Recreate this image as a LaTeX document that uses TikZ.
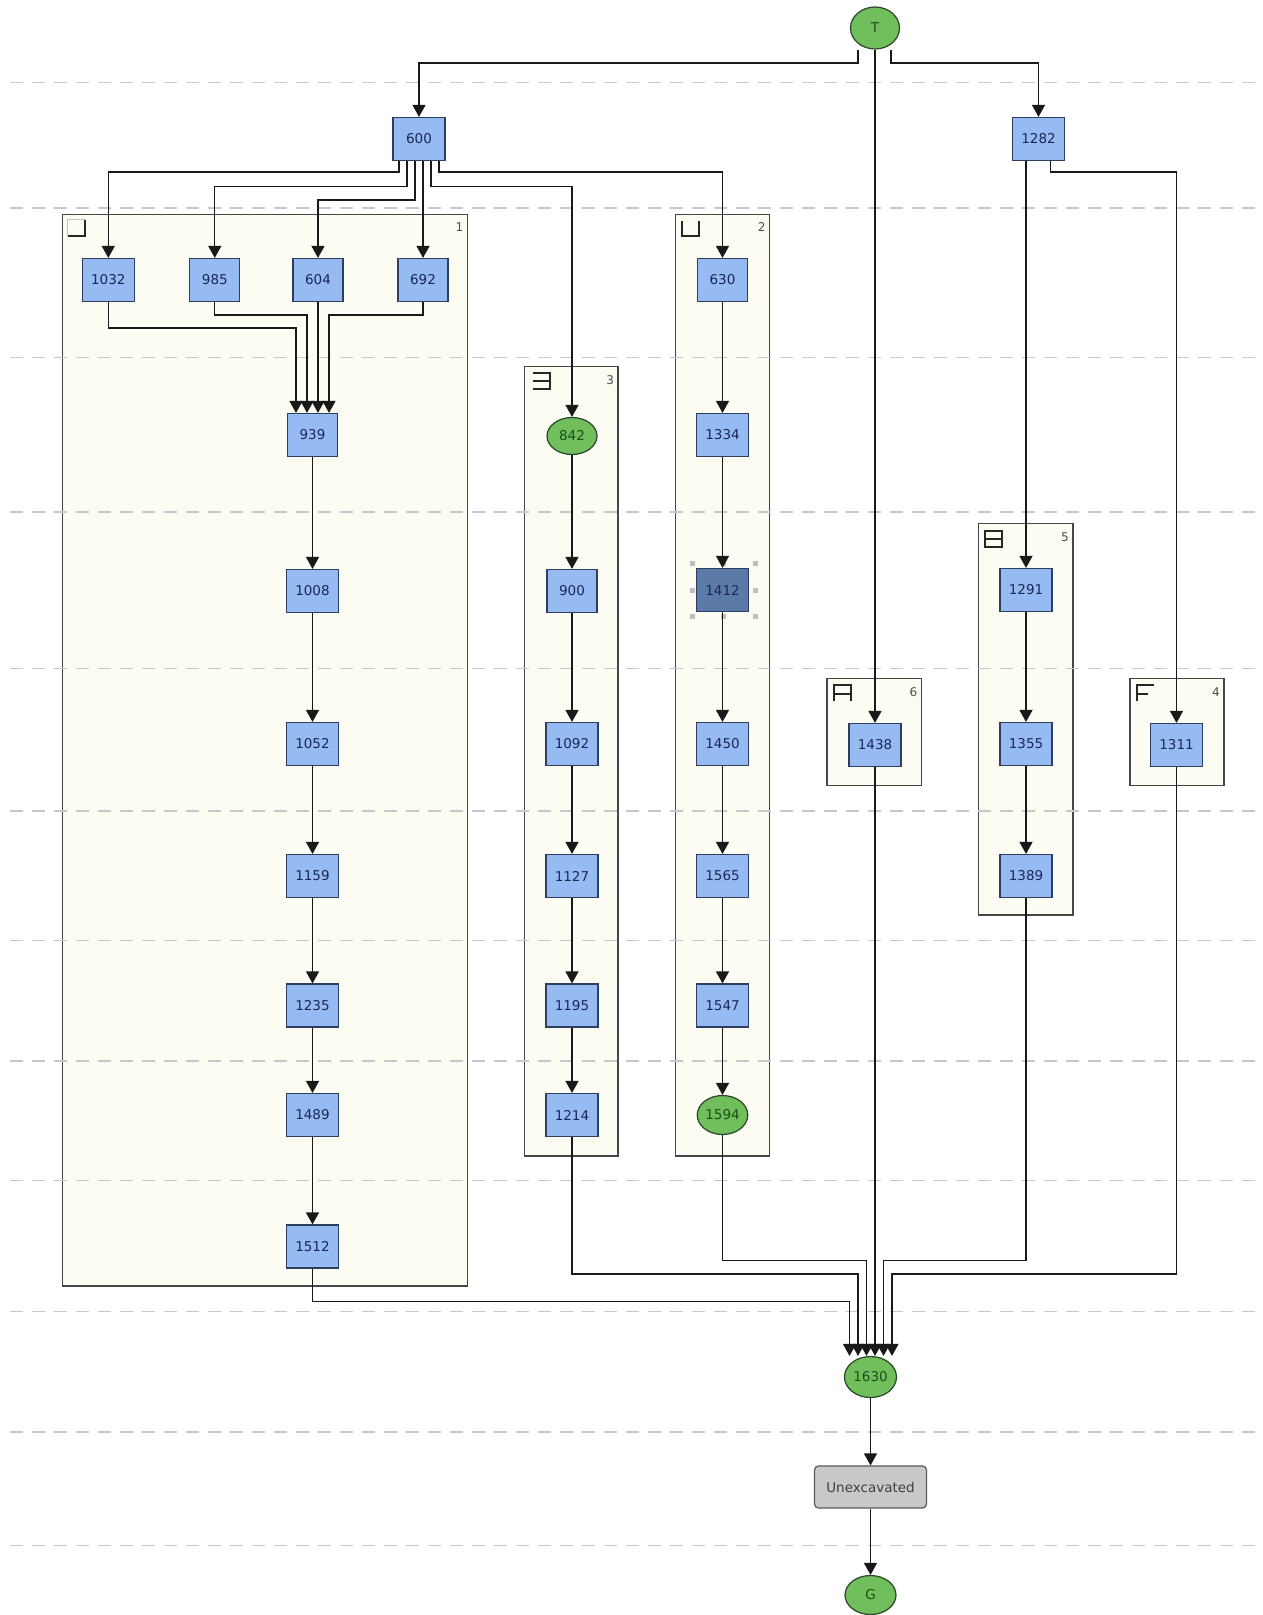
\documentclass[tikz,border=0pt]{standalone}
\usepackage{fontspec}
\setmainfont{DejaVu Sans}
\usetikzlibrary{arrows.meta,shapes.geometric,calc}
\definecolor{boxfill}{RGB}{150,186,242}
\definecolor{boxdraw}{RGB}{45,62,95}
\definecolor{boxtext}{RGB}{25,40,85}
\definecolor{selfill}{RGB}{92,122,168}
\definecolor{ellfill}{RGB}{112,190,92}
\definecolor{elldraw}{RGB}{40,70,40}
\definecolor{elltext}{RGB}{25,80,25}
\definecolor{grpfill}{RGB}{252,252,242}
\definecolor{grpdraw}{RGB}{70,70,70}
\definecolor{dashcol}{RGB}{200,200,200}
\definecolor{ungrey}{RGB}{200,200,200}
\definecolor{hcol}{RGB}{190,190,190}
\begin{document}
\begin{tikzpicture}[x=1pt,y=-1pt,
  bx/.style={rectangle,draw=boxdraw,fill=boxfill,line width=1.2pt,minimum width=52pt,minimum height=43pt,inner sep=0pt,text=boxtext,font=\fontsize{13.5}{15}\selectfont},
  sel/.style={bx,fill=selfill},
  el/.style={ellipse,draw=elldraw,fill=ellfill,line width=1.2pt,minimum width=50pt,minimum height=38pt,inner sep=0pt,text=elltext,font=\fontsize{13.5}{15}\selectfont},
  unx/.style={rectangle,rounded corners=4pt,draw=black!65,fill=ungrey,line width=1.2pt,minimum width=112pt,minimum height=42pt,inner sep=0pt,text=black!75,font=\fontsize{13.5}{15}\selectfont},
  grp/.style={draw=grpdraw,fill=grpfill,line width=1.3pt},
  glabel/.style={inner sep=0pt,text=black!70,font=\fontsize{12}{14}\selectfont},
  dl/.style={draw=dashcol,line width=1.4pt,dash pattern=on 13pt off 9pt},
  conn/.style={draw=black!90,line width=1.3pt,-{Triangle[width=13pt,length=12pt]}},
  icon/.style={draw=black!85,line width=2pt},
  iconlt/.style={draw=black!25,line width=1.2pt}
]
\useasboundingbox[fill=white] (0,0) rectangle (1262,1615);

% groups
\draw[grp] (62.8,214.3) rectangle (467.5,1286);
\draw[grp] (675.8,214.3) rectangle (769.6,1156);
\draw[grp] (524.4,366.8) rectangle (618.1,1156);
\draw[grp] (978.5,523.3) rectangle (1073,915);
\draw[grp] (827,678.5) rectangle (921.5,785.5);
\draw[grp] (1130,678.5) rectangle (1224,785.5);

\node[glabel] (g1l) at (459.5,227) {1};
\node[glabel] (g2l) at (761.6,227) {2};
\node[glabel] (g3l) at (610.1,380) {3};
\node[glabel] (g5l) at (1065,537) {5};
\node[glabel] (g6l) at (913.5,692) {6};
\node[glabel] (g4l) at (1216,692) {4};

% group icons
\begin{scope}[shift={(67.5,219.5)}]
\draw[iconlt] (0,16)--(0,0)--(17,0);
\draw[icon] (0,16)--(17,16)--(17,0);
\end{scope}
\begin{scope}[shift={(682,221)}]
\draw[icon] (0,0)--(0,15)--(17,15)--(17,0);
\end{scope}
\begin{scope}[shift={(532.5,372.5)}]
\draw[icon] (0,0)--(17,0)--(17,16)--(0,16);
\draw[icon] (0,8)--(17,8);
\end{scope}
\begin{scope}[shift={(985,530.5)}]
\draw[icon] (0,0) rectangle (17,16);
\draw[icon] (0,8)--(17,8);
\end{scope}
\begin{scope}[shift={(833.5,684.5)}]
\draw[icon] (0,16)--(0,0)--(17,0)--(17,16);
\draw[icon] (0,9)--(17,9);
\end{scope}
\begin{scope}[shift={(1136.5,684.5)}]
\draw[icon] (0,16)--(0,0)--(17,0);
\draw[icon] (0,9)--(11,9);
\end{scope}

% dashed swimlane lines
\foreach \yy in {82.4,208.1,357.5,512,668.6,810.8,940.6,1061.1,1180.6,1311.4,1432,1545.3}
  \draw[dl] (10,\yy) -- (1262,\yy);

% nodes
\node[el,minimum width=49pt,minimum height=42pt] (nT) at (875,28) {T};
\node[bx] (n600) at (419,139) {600};
\node[bx] (n1282) at (1038.5,139) {1282};
\node[bx] (n1032) at (108.3,280) {1032};
\node[bx,minimum width=50pt] (n985) at (214.8,280) {985};
\node[bx,minimum width=50pt] (n604) at (318,280) {604};
\node[bx,minimum width=50pt] (n692) at (423,280) {692};
\node[bx,minimum width=50pt] (n630) at (722.5,280) {630};
\node[bx,minimum width=50pt] (n939) at (312.5,435) {939};
\node[el,minimum height=37pt] (n842) at (572,436) {842};
\node[bx] (n1334) at (722.5,435) {1334};
\node[bx] (n1008) at (312.5,591) {1008};
\node[bx,minimum width=50pt] (n900) at (572,591) {900};
\node[sel] (n1412) at (722.5,590) {1412};
\node[bx] (n1291) at (1026,590) {1291};
\node[bx] (n1052) at (312.5,744) {1052};
\node[bx] (n1092) at (572,744) {1092};
\node[bx] (n1450) at (722.5,744) {1450};
\node[bx] (n1438) at (875,745) {1438};
\node[bx] (n1355) at (1026,744) {1355};
\node[bx] (n1311) at (1176.5,745) {1311};
\node[bx] (n1159) at (312.5,876) {1159};
\node[bx] (n1127) at (572,876) {1127};
\node[bx] (n1565) at (722.5,876) {1565};
\node[bx] (n1389) at (1026,876) {1389};
\node[bx] (n1235) at (312.5,1005.5) {1235};
\node[bx] (n1195) at (572,1005.5) {1195};
\node[bx] (n1547) at (722.5,1005.5) {1547};
\node[bx] (n1489) at (312.5,1115) {1489};
\node[bx] (n1214) at (572,1115) {1214};
\node[el,minimum width=50.5pt,minimum height=39pt] (n1594) at (722.5,1115) {1594};
\node[bx] (n1512) at (312.5,1246.5) {1512};
\node[el,minimum width=52pt,minimum height=41pt] (n1630) at (870.5,1377) {1630};
\node[unx] (nU) at (870.5,1487) {Unexcavated};
\node[el,minimum width=51pt,minimum height=39pt] (nG) at (870.5,1595) {G};

% selection handles on 1412
\foreach \hx/\hy in {692.5/563.5,723/563.5,755.5/563.5,692.5/590,755.5/590,692.5/616.5,723/616.5,755.5/616.5}
  \fill[hcol] (\hx-2.5,\hy-2.5) rectangle (\hx+2.5,\hy+2.5);

% level coordinates
\coordinate (y63) at (0,63);
\coordinate (y172) at (0,172);
\coordinate (y186) at (0,186.5);
\coordinate (y200) at (0,200);
\coordinate (y315) at (0,315);
\coordinate (y328) at (0,328);
\coordinate (y1260) at (0,1260.5);
\coordinate (y1274) at (0,1274);
\coordinate (y1301) at (0,1301.5);

% ports
\coordinate (tL) at ([xshift=-17pt]nT.south);
\coordinate (tR) at ([xshift=16pt]nT.south);
\coordinate (p1) at ([xshift=-20pt]n600.south);
\coordinate (p2) at ([xshift=-12pt]n600.south);
\coordinate (p3) at ([xshift=-4pt]n600.south);
\coordinate (p4) at ([xshift=4pt]n600.south);
\coordinate (p5) at ([xshift=12pt]n600.south);
\coordinate (p6) at ([xshift=20pt]n600.south);
\coordinate (q1) at ([xshift=-16.5pt]n939.north);
\coordinate (q2) at ([xshift=-5.5pt]n939.north);
\coordinate (q3) at ([xshift=5.5pt]n939.north);
\coordinate (q4) at ([xshift=16.5pt]n939.north);
\coordinate (s1) at ([xshift=-12.5pt]n1282.south);
\coordinate (s2) at ([xshift=12pt]n1282.south);
\coordinate (r1) at ([xshift=-21pt]n1630.north);
\coordinate (r2) at ([xshift=-12.5pt]n1630.north);
\coordinate (r3) at ([xshift=-4pt]n1630.north);
\coordinate (r4) at ([xshift=4.5pt]n1630.north);
\coordinate (r5) at ([xshift=13pt]n1630.north);
\coordinate (r6) at ([xshift=21.5pt]n1630.north);

% connectors
\draw[conn] (tL) |- (y63 -| n600) -- (n600.north);
\draw[conn] (nT.south) -- (n1438.north);
\draw[conn] (tR) |- (y63 -| n1282) -- (n1282.north);

\draw[conn] (p1) |- (y172 -| n1032) -- (n1032.north);
\draw[conn] (p2) |- (y186 -| n985) -- (n985.north);
\draw[conn] (p3) |- (y200 -| n604) -- (n604.north);
\draw[conn] (p4) -- (p4 |- n692.north);
\draw[conn] (p5) |- (y186 -| n842) -- (n842.north);
\draw[conn] (p6) |- (y172 -| n630) -- (n630.north);

\draw[conn] (n1032.south) |- (y328 -| q1) -- (q1);
\draw[conn] (n985.south) |- (y315 -| q2) -- (q2);
\draw[conn] (n604.south) -- (q3);
\draw[conn] (n692.south) |- (y315 -| q4) -- (q4);

\draw[conn] (n939) -- (n1008);
\draw[conn] (n1008) -- (n1052);
\draw[conn] (n1052) -- (n1159);
\draw[conn] (n1159) -- (n1235);
\draw[conn] (n1235) -- (n1489);
\draw[conn] (n1489) -- (n1512);

\draw[conn] (n842) -- (n900);
\draw[conn] (n900) -- (n1092);
\draw[conn] (n1092) -- (n1127);
\draw[conn] (n1127) -- (n1195);
\draw[conn] (n1195) -- (n1214);

\draw[conn] (n630) -- (n1334);
\draw[conn] (n1334) -- (n1412);
\draw[conn] (n1412) -- (n1450);
\draw[conn] (n1450) -- (n1565);
\draw[conn] (n1565) -- (n1547);
\draw[conn] (n1547) -- (n1594);

\draw[conn] (s1) -- (s1 |- n1291.north);
\draw[conn] (s2) |- (y172 -| n1311) -- (n1311.north);
\draw[conn] (n1291) -- (n1355);
\draw[conn] (n1355) -- (n1389);

\draw[conn] (n1512.south) |- (y1301 -| r1) -- (r1);
\draw[conn] (n1214.south) |- (y1274 -| r2) -- (r2);
\draw[conn] (n1594.south) |- (y1260 -| r3) -- (r3);
\draw[conn] (n1438.south) -- (r4);
\draw[conn] (n1389.south) |- (y1260 -| r5) -- (r5);
\draw[conn] (n1311.south) |- (y1274 -| r6) -- (r6);

\draw[conn] (n1630) -- (nU);
\draw[conn] (nU) -- (nG);
\end{tikzpicture}
\end{document}
